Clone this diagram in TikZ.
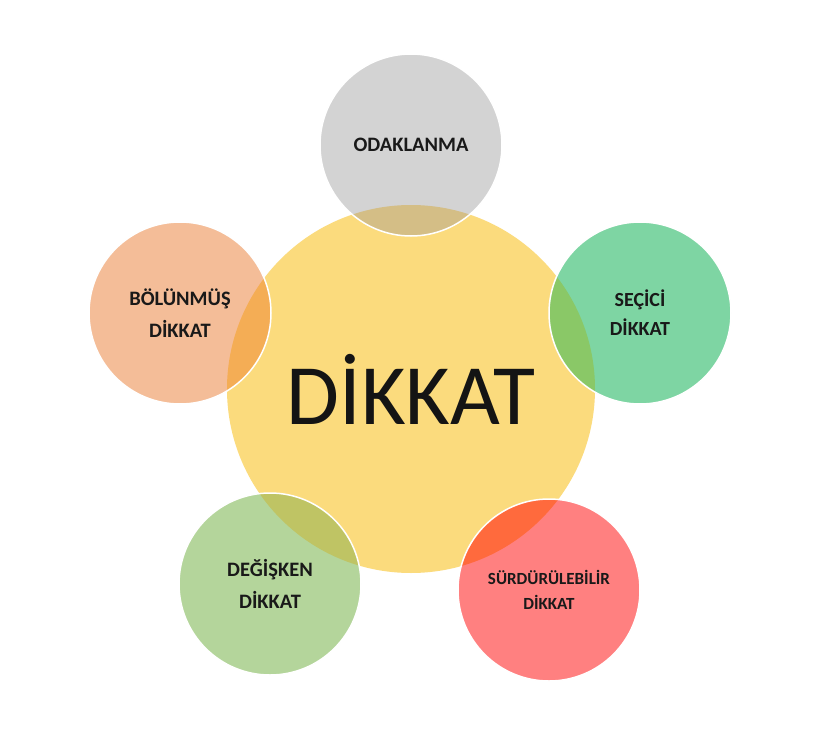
\documentclass[tikz,border=0pt]{standalone}
\usepackage{fontspec}
\setmainfont{Carlito}
\definecolor{cyellow}{HTML}{FBDB7D}
\definecolor{cgray}{HTML}{D3D3D3}
\definecolor{ogray}{HTML}{D4BE86}
\definecolor{cgreen}{HTML}{7ED5A3}
\definecolor{ogreen}{HTML}{8AC867}
\definecolor{cred}{HTML}{FF8080}
\definecolor{ored}{HTML}{FF6A3D}
\definecolor{clgreen}{HTML}{B4D59B}
\definecolor{olgreen}{HTML}{BFC464}
\definecolor{corange}{HTML}{F4BD98}
\definecolor{oorange}{HTML}{F4AD55}
\tikzset{
  bubble/.style={circle, minimum size=182pt, inner sep=0pt, outer sep=0pt},
  ring/.style={draw=white, line width=1.5pt},
  lab/.style={font=\bfseries\fontsize{20.5}{32}\selectfont, align=center, text=black!90},
}
\begin{document}
\begin{tikzpicture}[x=1pt,y=-1pt]
\useasboundingbox (0,0) rectangle (828,747);
\fill[white] (0,0) rectangle (828,747);
% central circle
\node[circle, minimum size=368pt, inner sep=0pt, fill=cyellow] (C) at (411,389) {};
% outer circles
\node[bubble, fill=cgray] (G) at (411,145) {};
\node[bubble, fill=cgreen] (S) at (640,313) {};
\node[bubble, fill=cred] (R) at (549,590) {};
\node[bubble, fill=clgreen] (D) at (270,584) {};
\node[bubble, fill=corange] (B) at (180,313) {};
% overlaps
\begin{scope}
  \clip (C.center) circle[radius=184pt];
  \fill[ogray] (G.center) circle[radius=91pt];
  \fill[ogreen] (S.center) circle[radius=91pt];
  \fill[ored] (R.center) circle[radius=91pt];
  \fill[olgreen] (D.center) circle[radius=91pt];
  \fill[oorange] (B.center) circle[radius=91pt];
\end{scope}
% white rims
\foreach \n in {G,S,R,D,B}{
  \draw[ring] (\n.center) circle[radius=91pt];
}
% labels
\node[font=\fontsize{86}{90}\selectfont, text=black!92] (Ct) at (C.center) {DİKKAT};
\node[lab] (Gt) at (G.center) {ODAKLANMA};
\node[lab, font=\bfseries\fontsize{20}{29}\selectfont] (St) at (S.center) {SEÇİCİ\\DİKKAT};
\node[lab, font=\bfseries\fontsize{17}{25}\selectfont] (Rt) at (R.center) {SÜRDÜRÜLEBİLİR\\DİKKAT};
\node[lab] (Dt) at (D.center) {DEĞİŞKEN\\DİKKAT};
\node[lab] (Bt) at (B.center) {BÖLÜNMÜŞ\\DİKKAT};
\end{tikzpicture}
\end{document}
